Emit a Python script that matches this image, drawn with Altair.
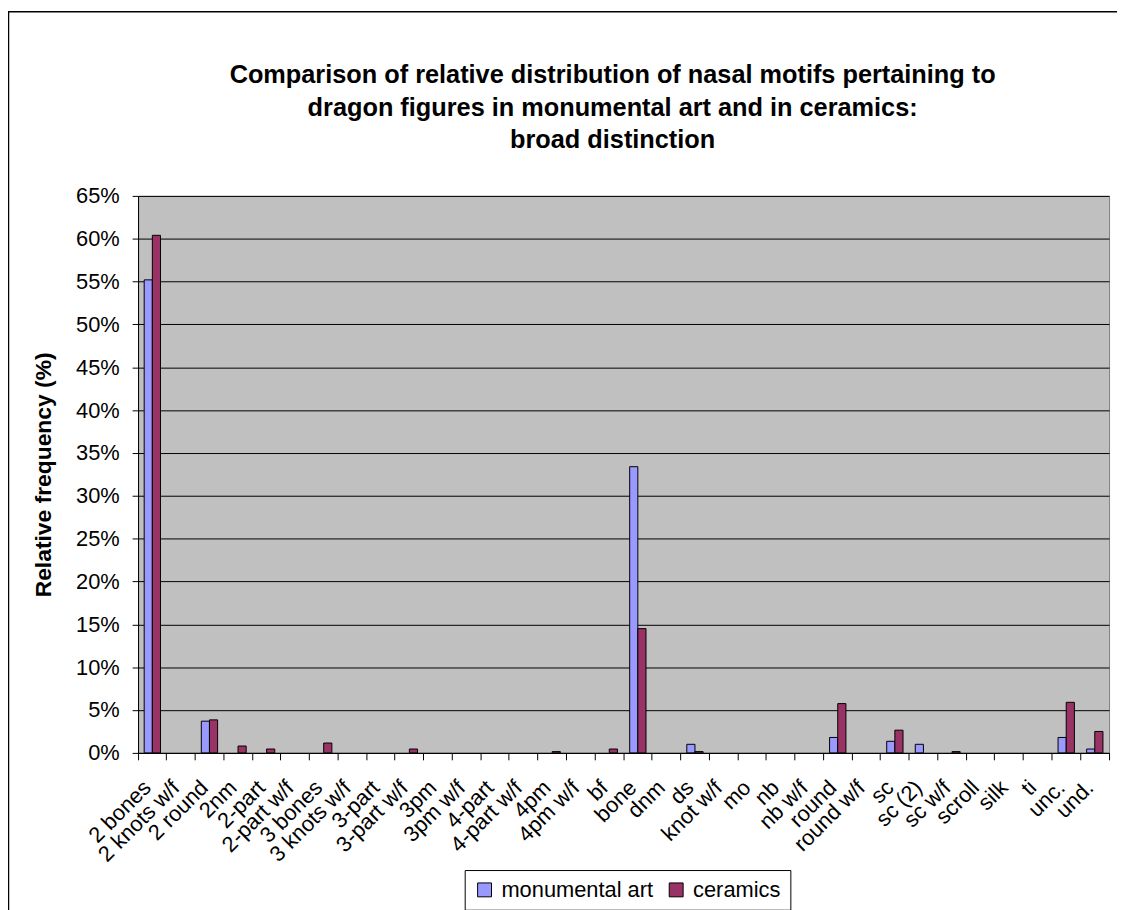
import altair as alt
import pandas as pd

categories = ["2 bones", "2 knots w/f", "2 round", "2nm", "2-part", "2-part w/f",
              "3 bones", "3 knots w/f", "3-part", "3-part w/f", "3pm", "3pm w/f",
              "4-part", "4-part w/f", "4pm", "4pm w/f", "bf", "bone", "dnm", "ds",
              "knot w/f", "mo", "nb", "nb w/f", "round", "round w/f", "sc", "sc (2)",
              "sc w/f", "scroll", "silk", "ti", "unc.", "und."]

monumental_art = [55.2, 0, 3.7, 0, 0, 0, 0, 0, 0, 0, 0, 0, 0, 0, 0, 0, 0, 33.4, 0, 1.0,
                  0, 0, 0, 0, 1.8, 0, 1.35, 1.0, 0, 0, 0, 0, 1.8, 0.45]
ceramics = [60.4, 0, 3.85, 0.8, 0.45, 0, 1.15, 0, 0, 0.45, 0, 0, 0, 0, 0.15, 0, 0.45, 14.5,
            0, 0.15, 0, 0, 0, 0, 5.75, 0, 2.65, 0, 0.15, 0, 0, 0, 5.9, 2.5]

series_names = ["monumental art", "ceramics"]
series_colors = ["#9999FF", "#993366"]
y_ticks = [0, 0.05, 0.10, 0.15, 0.20, 0.25, 0.30, 0.35, 0.40, 0.45, 0.50, 0.55, 0.60, 0.65]

title_lines = ["Comparison of relative distribution of nasal motifs pertaining to",
               "dragon figures in monumental art and in ceramics:",
               "broad distinction"]

rows = []
for c, m, k in zip(categories, monumental_art, ceramics):
    rows.append({"motif": c, "series": series_names[0], "value": m / 100})
    rows.append({"motif": c, "series": series_names[1], "value": k / 100})
df = pd.DataFrame(rows)

FONT = "Liberation Sans"

bars = (
    alt.Chart(df)
    .transform_filter(alt.datum.value > 0)
    .mark_bar(stroke="black", strokeWidth=1)
    .encode(
        x=alt.X(
            "motif:N",
            sort=categories,
            scale=alt.Scale(domain=categories, paddingInner=0, paddingOuter=0),
            axis=alt.Axis(
                title=None,
                labelAngle=-45,
                labelAlign="right",
                labelBaseline="alphabetic",
                labelPadding=29,
                labelFontSize=22,
                labelFont=FONT,
                labelColor="black",
                bandPosition=1,
                tickExtra=True,
                tickSize=7,
                tickColor="black",
                domainColor="black",
                labelOverlap=False,
                labelBound=False,
                labelFlush=False,
            ),
        ),
        xOffset=alt.XOffset(
            "series:N",
            sort=series_names,
            scale=alt.Scale(domain=series_names, paddingInner=0, paddingOuter=0.75),
        ),
        y=alt.Y(
            "value:Q",
            scale=alt.Scale(domain=[0, 0.65], nice=False, zero=True),
            axis=alt.Axis(
                title="Relative frequency (%)",
                titleFontSize=23,
                titleFont=FONT,
                titleFontWeight="bold",
                titleColor="black",
                titlePadding=20,
                values=y_ticks,
                format=".0%",
                labelFontSize=22,
                labelFont=FONT,
                labelColor="black",
                labelPadding=13,
                tickSize=6,
                tickColor="black",
                domainColor="black",
                grid=True,
                gridColor="black",
                gridWidth=1,
            ),
        ),
        color=alt.Color(
            "series:N",
            sort=series_names,
            scale=alt.Scale(domain=series_names, range=series_colors),
            legend=alt.Legend(
                title=None,
                orient="none",
                legendX=329,
                legendY=679,
                direction="horizontal",
                strokeColor="black",
                fillColor="white",
                padding=9,
                symbolType="square",
                symbolSize=196,
                symbolStrokeColor="black",
                symbolStrokeWidth=1,
                symbolOpacity=1,
                labelFontSize=22,
                labelFont=FONT,
                labelColor="black",
                labelOffset=6,
                columnPadding=12,
            ),
        ),
    )
)

# outer chart-area frame edges (decoration): left and top
frame_data = pd.DataFrame({"f": [0]})
frame_left = (
    alt.Chart(frame_data)
    .mark_rule(stroke="black", strokeWidth=1.5)
    .encode(x=alt.value(-130.5), y=alt.value(-186), y2=alt.value(800))
)
frame_top = (
    alt.Chart(frame_data)
    .mark_rule(stroke="black", strokeWidth=1.5)
    .encode(x=alt.value(-131), x2=alt.value(1000), y=alt.value(-185.5))
)

chart = (
    alt.layer(bars, frame_left, frame_top)
    .properties(
        width=978,
        height=561,
        title=alt.TitleParams(
            text=title_lines,
            fontSize=25.5,
            font=FONT,
            fontWeight="bold",
            color="black",
            anchor="middle",
            frame="group",
            dx=-11,
            dy=176,
            offset=32,
            lineHeight=32.5,
        ),
        autosize=alt.AutoSizeParams(type="none"),
        padding={"left": 131, "top": 186, "right": 8, "bottom": 155},
        background="white",
    )
    .configure_view(fill="#C0C0C0", stroke="#808080", strokeWidth=1)
)

chart.save("out.html", embed_options={"renderer": "svg", "actions": False})
